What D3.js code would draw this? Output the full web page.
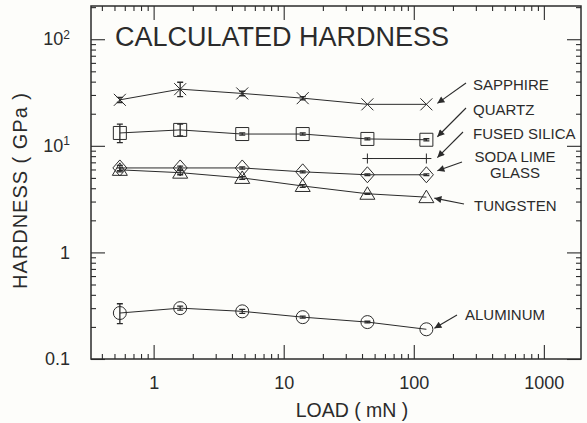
<!DOCTYPE html>
<html>
<head>
<meta charset="utf-8">
<script src="https://cdn.jsdelivr.net/npm/d3@7"></script>
<style>
  body { margin: 0; background: #fdfdfa; }
  svg { display: block; font-family: "Liberation Sans", Arial, sans-serif; }
</style>
</head>
<body>
<svg id="chart" width="587" height="423"></svg>
<script>
// loads (mN) where each hardness was measured
const loads = [0.55, 1.6, 4.8, 14, 44, 125];
const silicaLoads = [44, 125];

// hardness (GPa), with error bar low / high
const sapphire = [27, 34, 31, 28, 24.5, 24.5];
const sapphireLo = [25.5, 29, 29.5, 27, 24.5, 24.5];
const sapphireHi = [28.5, 39.5, 32.5, 29, 24.5, 24.5];

const quartz = [13.2, 14.1, 12.9, 12.9, 11.6, 11.4];
const quartzLo = [10.7, 12.4, 12.6, 12.6, 11.35, 11.15];
const quartzHi = [16, 16, 13.2, 13.2, 11.85, 11.65];

const silica = [7.6, 7.6];

const soda = [6.2, 6.2, 6.2, 5.7, 5.35, 5.35];
const sodaLo = [5.85, 5.95, 6.05, 5.57, 5.25, 5.25];
const sodaHi = [6.55, 6.45, 6.35, 5.83, 5.45, 5.45];

const tungsten = [5.95, 5.6, 5.0, 4.2, 3.55, 3.3];
const tungstenLo = [5.7, 5.35, 4.85, 4.08, 3.5, 3.3];
const tungstenHi = [6.2, 5.85, 5.15, 4.32, 3.6, 3.3];

const aluminum = [0.27, 0.30, 0.28, 0.247, 0.222, 0.19];
const aluminumLo = [0.215, 0.287, 0.268, 0.242, 0.218, 0.19];
const aluminumHi = [0.33, 0.313, 0.292, 0.252, 0.226, 0.19];

const xMajor = [1, 10, 100, 1000];
const yMajor = [0.1, 1, 10, 100];
const yExp = [null, null, 1, 2];

const ink = "#2b2b2b";
const svg = d3.select("#chart");

const x = d3.scaleLog().domain([0.33, 1930]).range([91, 581]);
const y = d3.scaleLog().domain([0.1, 205]).range([359, 6]);

// minor ticks 2..9 per decade
function minorTicks(scale) {
    const [a, b] = scale.domain();
    let out = [];
    for (let k = -2; k <= 4; k++) {
        for (let m = 2; m <= 9; m++) {
            const v = m * Math.pow(10, k);
            if (v > a * 1.02 && v < b * 0.98) out.push(v);
        }
    }
    return out;
}

function plainAxis(g) {
    g.select(".domain").remove();
    g.selectAll("line").attr("stroke", ink).attr("stroke-width", 1.1);
}

// bottom / top
svg.append("g").attr("transform", "translate(0,359)")
    .call(d3.axisBottom(x).tickValues(minorTicks(x)).tickSizeInner(-5).tickSizeOuter(0).tickFormat(""))
    .call(plainAxis);
svg.append("g").attr("transform", "translate(0,359)")
    .call(d3.axisBottom(x).tickValues(xMajor).tickSizeInner(-14).tickSizeOuter(0)
        .tickPadding(17).tickFormat(d3.format("d")))
    .call(plainAxis)
    .call(g => g.selectAll("text").attr("fill", ink).attr("font-size", 18).attr("font-family", null));
svg.append("g").attr("transform", "translate(0,6)")
    .call(d3.axisTop(x).tickValues(minorTicks(x)).tickSizeInner(-5).tickSizeOuter(0).tickFormat(""))
    .call(plainAxis);
svg.append("g").attr("transform", "translate(0,6)")
    .call(d3.axisTop(x).tickValues(xMajor).tickSizeInner(-14).tickSizeOuter(0).tickFormat(""))
    .call(plainAxis);

// left / right
svg.append("g").attr("transform", "translate(91,0)")
    .call(d3.axisLeft(y).tickValues(minorTicks(y)).tickSizeInner(-5).tickSizeOuter(0).tickFormat(""))
    .call(plainAxis);
svg.append("g").attr("transform", "translate(91,0)")
    .call(d3.axisLeft(y).tickValues(yMajor).tickSizeInner(-14).tickSizeOuter(0).tickPadding(21)
        .tickFormat(""))
    .call(plainAxis)
    .call(g => g.selectAll("text").each(function(d, i) {
        const t = d3.select(this).attr("fill", ink).attr("font-size", 18).attr("font-family", null);
        if (yExp[i] == null) {
            t.text(d3.format("~g")(d));
        } else {
            t.append("tspan").text("10");
            t.append("tspan").attr("font-size", 12).attr("dy", "-0.55em").text(yExp[i]);
        }
    }));
svg.append("g").attr("transform", "translate(581,0)")
    .call(d3.axisRight(y).tickValues(minorTicks(y)).tickSizeInner(-5).tickSizeOuter(0).tickFormat(""))
    .call(plainAxis);
svg.append("g").attr("transform", "translate(581,0)")
    .call(d3.axisRight(y).tickValues(yMajor).tickSizeInner(-14).tickSizeOuter(0).tickFormat(""))
    .call(plainAxis);

// frame
svg.append("rect")
    .attr("x", 91).attr("y", 6).attr("width", 490).attr("height", 353)
    .attr("fill", "none").attr("stroke", ink).attr("stroke-width", 1.5);

// axis titles
svg.append("text")
    .attr("x", 352).attr("y", 417)
    .attr("text-anchor", "middle")
    .attr("font-size", 19.5)
    .attr("fill", ink)
    .text("LOAD ( mN )");
svg.append("text")
    .attr("transform", "translate(27,191) rotate(-90)")
    .attr("text-anchor", "middle")
    .attr("font-size", 20)
    .attr("fill", ink)
    .attr("textLength", 196)
    .attr("lengthAdjust", "spacing")
    .text("HARDNESS ( GPa )");

svg.append("text")
    .attr("x", 115).attr("y", 46)
    .attr("font-size", 27)
    .attr("fill", ink)
    .text("CALCULATED HARDNESS");

// marker shapes
const shapes = {
    cross: "M-6,-6L6,6M-6,6L6,-6",
    square: "M-6.5,-6.5H6.5V6.5H-6.5Z",
    plus: "M-5,0H5M0,-5V5",
    diamond: "M0,-8L7,0L0,8L-7,0Z",
    triangle: "M0,-7L7.5,5.5H-7.5Z",
    circle: "M6.5,0A6.5,6.5 0 1,1 -6.5,0A6.5,6.5 0 1,1 6.5,0"
};

const series = [
    { key: "sapphire", xs: loads, v: sapphire, lo: sapphireLo, hi: sapphireHi, shape: "cross" },
    { key: "quartz", xs: loads, v: quartz, lo: quartzLo, hi: quartzHi, shape: "square" },
    { key: "silica", xs: silicaLoads, v: silica, lo: null, hi: null, shape: "plus" },
    { key: "tungsten", xs: loads, v: tungsten, lo: tungstenLo, hi: tungstenHi, shape: "triangle" },
    { key: "soda", xs: loads, v: soda, lo: sodaLo, hi: sodaHi, shape: "diamond" },
    { key: "aluminum", xs: loads, v: aluminum, lo: aluminumLo, hi: aluminumHi, shape: "circle" }
];

const line = d3.line().x(d => x(d[0])).y(d => y(d[1]));

for (const s of series) {
    const pts = s.xs.map((l, i) => [l, s.v[i]]);
    const g = svg.append("g").attr("class", s.key);
    g.append("path")
        .attr("d", line(pts))
        .attr("fill", "none")
        .attr("stroke", ink)
        .attr("stroke-width", 1);
    g.selectAll(".mk").data(pts).join("path")
        .attr("class", "mk")
        .attr("transform", d => `translate(${x(d[0])},${y(d[1])})`)
        .attr("d", shapes[s.shape])
        .attr("fill", "none")
        .attr("stroke", ink)
        .attr("stroke-width", 1);
    if (s.lo) {
        const eb = s.xs.map((l, i) => ({ l: l, lo: s.lo[i], hi: s.hi[i] }))
            .filter(d => d.hi > d.lo);
        g.selectAll(".eb").data(eb).join("path")
            .attr("class", "eb")
            .attr("d", d => {
                const cx = x(d.l), y0 = y(d.lo), y1 = y(d.hi);
                return `M${cx},${y0}V${y1}M${cx - 3},${y0}H${cx + 3}M${cx - 3},${y1}H${cx + 3}`;
            })
            .attr("fill", "none")
            .attr("stroke", ink)
            .attr("stroke-width", 1.3);
    }
}

// labels with arrows
svg.append("defs").append("marker")
    .attr("id", "head")
    .attr("viewBox", "0 0 10 10")
    .attr("refX", 10).attr("refY", 5)
    .attr("markerWidth", 9).attr("markerHeight", 7)
    .attr("markerUnits", "userSpaceOnUse")
    .attr("orient", "auto")
    .append("path").attr("d", "M0,0L10,5L0,10Z").attr("fill", ink);

const labelLayout = [
    { key: "sapphire", text: ["SAPPHIRE"], x: 473, y: 90, anchor: "start", tail: [466, 83], off: [11, -1] },
    { key: "quartz", text: ["QUARTZ"], x: 473, y: 115, anchor: "start", tail: [466, 108], off: [11, -3] },
    { key: "silica", text: ["FUSED SILICA"], x: 473, y: 139, anchor: "start", tail: [463, 132], off: [11, -1] },
    { key: "soda", text: ["SODA LIME", "GLASS"], x: 515, y: 162, anchor: "middle", tail: [462, 162], off: [11, -4] },
    { key: "tungsten", text: ["TUNGSTEN"], x: 474, y: 211, anchor: "start", tail: [464, 204], off: [8, 1] },
    { key: "aluminum", text: ["ALUMINUM"], x: 465, y: 320, anchor: "start", tail: [457, 315], off: [8, -1] }
];

for (const lab of labelLayout) {
    const s = series.find(d => d.key === lab.key);
    const n = s.xs.length - 1;
    const tipX = x(s.xs[n]) + lab.off[0];
    const tipY = y(s.v[n]) + lab.off[1];
    svg.append("line")
        .attr("x1", lab.tail[0]).attr("y1", lab.tail[1])
        .attr("x2", tipX).attr("y2", tipY)
        .attr("stroke", ink).attr("stroke-width", 1.1)
        .attr("marker-end", "url(#head)");
    const t = svg.append("text")
        .attr("x", lab.x).attr("y", lab.y)
        .attr("text-anchor", lab.anchor)
        .attr("font-size", 15)
        .attr("fill", ink);
    lab.text.forEach((str, i) => {
        t.append("tspan").attr("x", lab.x).attr("dy", i === 0 ? 0 : 16).text(str);
    });
}
</script>
</body>
</html>
